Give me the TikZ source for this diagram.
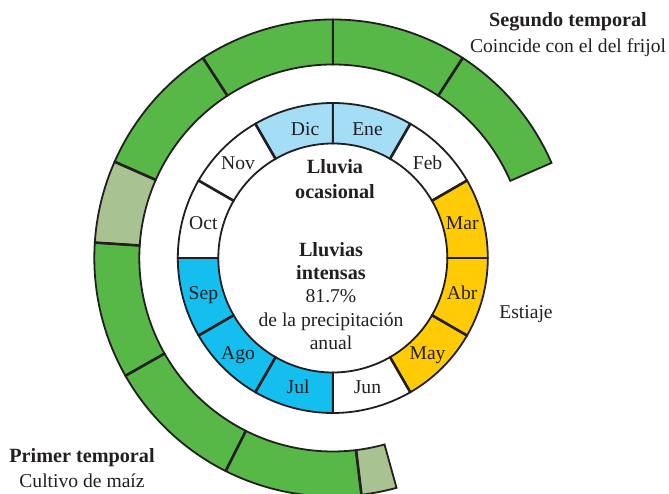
\documentclass[tikz,border=0pt]{standalone}
\usepackage{fontspec}
\setmainfont{Liberation Serif}
\definecolor{lblue}{HTML}{A3DDF6}
\definecolor{cyanb}{HTML}{14BFF0}
\definecolor{yel}{HTML}{FFCB05}
\definecolor{grn}{HTML}{57B848}
\definecolor{lgrn}{HTML}{A8C292}
\definecolor{ink}{HTML}{231F20}
% color, start angle, end angle, inner radius, outer radius
\newcommand\annseg[5]{%
  \path[seg, fill=#1] ([shift={(#2:#5pt)}]C) arc[start angle=#2, end angle=#3, radius=#5pt]
    -- ([shift={(#3:#4pt)}]C) arc[start angle=#3, end angle=#2, radius=#4pt] -- cycle;}
\newcommand\segdiv[3]{% angle, inner, outer
  \draw[divider] ([shift={(#1:#2pt)}]C) -- ([shift={(#1:#3pt)}]C);}
\begin{document}
\begin{tikzpicture}[x=1pt,y=1pt,
  seg/.style={draw=ink, line width=1.8pt, line join=miter},
  divider/.style={draw=ink, line width=2.6pt},
  lbl/.style={anchor=base, inner sep=0pt, font=\fontsize{19.6}{23}\selectfont, text=ink},
  blbl/.style={lbl, font=\fontsize{20.2}{23}\selectfont\bfseries},
  mlbl/.style={lbl, yshift=-6.5pt}]
\useasboundingbox (0,0) rectangle (669,494);
\clip (0,0) rectangle (669,494);
\coordinate (C) at (332.8,236);
% outer ring
\annseg{grn}{23.5}{57}{193.5}{238.5}
\annseg{grn}{57}{90}{193.5}{238.5}
\annseg{grn}{90}{123}{193.5}{238.5}
\annseg{grn}{123}{156.2}{193.5}{238.5}
\annseg{lgrn}{156.2}{176.3}{193.5}{238.5}
\annseg{grn}{176.3}{209.6}{193.5}{238.5}
\annseg{grn}{209.6}{243.3}{193.5}{238.5}
\annseg{grn}{243.3}{276.9}{193.5}{238.5}
\annseg{lgrn}{276.9}{285.5}{193.5}{238.5}
\foreach \a in {57,90,123,156.2,176.3,209.6,243.3,276.9} {\segdiv{\a}{193.5}{238.5}}
% inner ring
\annseg{lblue}{60}{90}{114.5}{155}
\annseg{white}{30}{60}{114.5}{155}
\annseg{yel}{0}{30}{114.5}{155}
\annseg{yel}{-30}{0}{114.5}{155}
\annseg{yel}{-60}{-30}{114.5}{155}
\annseg{white}{-90}{-60}{114.5}{155}
\annseg{cyanb}{-120}{-90}{114.5}{155}
\annseg{cyanb}{-150}{-120}{114.5}{155}
\annseg{cyanb}{-180}{-150}{114.5}{155}
\annseg{white}{150}{180}{114.5}{155}
\annseg{white}{120}{150}{114.5}{155}
\annseg{lblue}{90}{120}{114.5}{155}
\foreach \a in {0,30,...,330} {\segdiv{\a}{114.5}{155}}
% month labels
\node[mlbl] (ene) at ([shift={(75:134pt)}]C) {Ene};
\node[mlbl] (feb) at ([shift={(45:134pt)}]C) {Feb};
\node[mlbl] (mar) at ([shift={(15:134pt)}]C) {Mar};
\node[mlbl] (abr) at ([shift={(-15:134pt)}]C) {Abr};
\node[mlbl] (may) at ([shift={(-45:134pt)}]C) {May};
\node[mlbl] (jun) at ([shift={(-75:134pt)}]C) {Jun};
\node[mlbl] (jul) at ([shift={(-105:134pt)}]C) {Jul};
\node[mlbl] (ago) at ([shift={(-135:134pt)}]C) {Ago};
\node[mlbl] (sep) at ([shift={(-165:134pt)}]C) {Sep};
\node[mlbl] (oct) at ([shift={(165:134pt)}]C) {Oct};
\node[mlbl] (nov) at ([shift={(135:134pt)}]C) {Nov};
\node[mlbl, xshift=7pt] (dic) at ([shift={(105:134pt)}]C) {Dic};
% centre texts
\node[blbl] (lo1) at (335,320) {Lluvia};
\node[blbl] (lo2) at (335,295) {ocasional};
\node[blbl] (li1) at (331,237) {Lluvias};
\node[blbl] (li2) at (331,214) {intensas};
\node[lbl] (li3) at (331,191) {81.7\%};
\node[lbl] (li4) at (331,167) {de la precipitación};
\node[lbl] (li5) at (331,144) {anual};
% side texts
\node[blbl] (st1) at (568,467) {Segundo temporal};
\node[lbl] (st2) at (568,441) {Coincide con el del frijol};
\node[blbl] (pt1) at (82,31) {Primer temporal};
\node[lbl] (pt2) at (82,6) {Cultivo de maíz};
\node[lbl] (est) at (526,175) {Estiaje};
\end{tikzpicture}
\end{document}
